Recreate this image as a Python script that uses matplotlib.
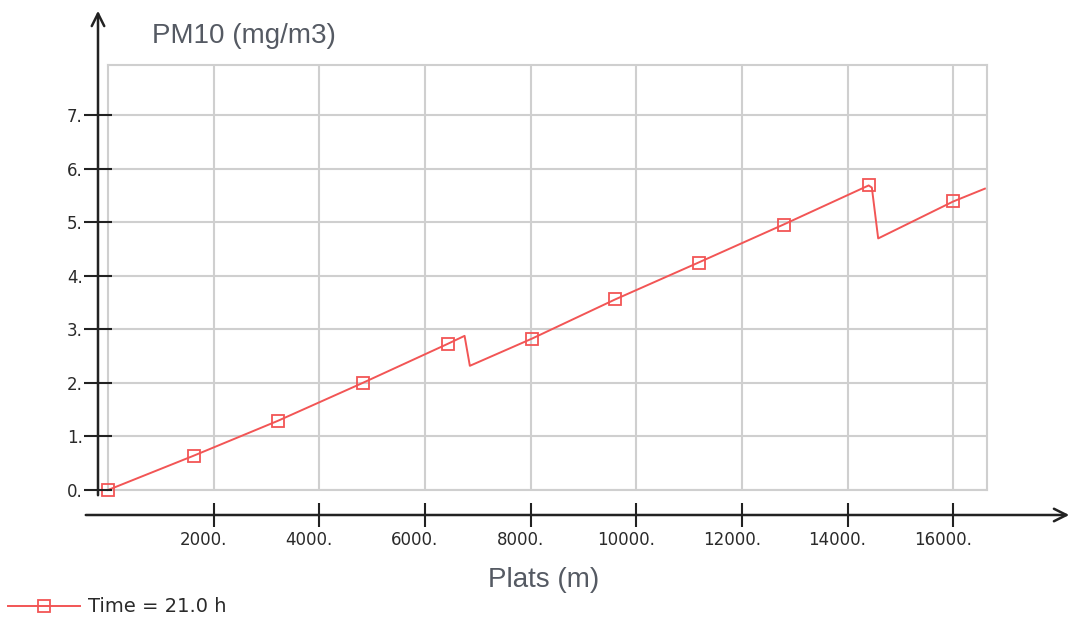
import matplotlib
matplotlib.use("Agg")
import matplotlib.pyplot as plt
import matplotlib.transforms as mtransforms

# distance along the route (m) and PM10 (mg/m3)
plats = [0, 1620, 3210, 4820, 6430, 6750, 6850, 8030, 9600, 11180, 12790,
         14400, 14460, 14580, 16000, 16600]
pm10 = [0.0, 0.64, 1.29, 2.00, 2.73, 2.88, 2.32, 2.83, 3.56, 4.25, 4.96,
        5.69, 5.65, 4.70, 5.39, 5.63]
marker_idx = [0, 1, 2, 3, 4, 7, 8, 9, 10, 11, 14]

xticks = [2000, 4000, 6000, 8000, 10000, 12000, 14000, 16000]
xticklabels = ["2000.", "4000.", "6000.", "8000.", "10000.", "12000.", "14000.", "16000."]
yticks = [0, 1, 2, 3, 4, 5, 6, 7]
yticklabels = ["0.", "1.", "2.", "3.", "4.", "5.", "6.", "7."]
series_name = "Time = 21.0 h"

W, H = 1074, 618
fig = plt.figure(figsize=(W / 100, H / 100), dpi=100)

left, right, top, bottom = 108, 987, 65, 490
xmin, xmax = 0, 16640
ymin, ymax = 0, 7.94

ax = fig.add_axes([left / W, 1 - bottom / H, (right - left) / W, (bottom - top) / H])
ax.set_xlim(xmin, xmax)
ax.set_ylim(ymin, ymax)
ax.set_xticks(xticks)
ax.set_yticks(yticks)
ax.tick_params(length=0, labelbottom=False, labelleft=False)
ax.grid(True, color="#cfcfcf", lw=1.5)
ax.set_axisbelow(True)
for s in ax.spines.values():
    s.set_color("#cfcfcf")
    s.set_linewidth(1.5)

red = "#f25555"
line, = ax.plot(plats, pm10, color=red, lw=1.4, marker="s", markersize=8.5,
                markerfacecolor="none", markeredgecolor=red, markeredgewidth=1.3,
                markevery=marker_idx, clip_on=False, zorder=3)

tick_color = "#2a2a2a"
tick_fs = 12

# separate x axis with arrow
xaxis_y = 515
ax_x = fig.add_axes([left / W, 1 - xaxis_y / H, (right - left) / W, 1e-5])
ax_x.set_xlim(xmin, xmax)
ax_x.set_yticks([])
for s in ax_x.spines.values():
    s.set_visible(False)
ax_x.set_xticks(xticks)
ax_x.set_xticklabels(xticklabels, fontsize=tick_fs, color=tick_color)
ax_x.tick_params(axis="x", direction="inout", length=17, width=1.5, color="#222222", pad=3)
off = mtransforms.ScaledTranslation(-10 / 100, 0, fig.dpi_scale_trans)
for lbl in ax_x.get_xticklabels():
    lbl.set_transform(lbl.get_transform() + off)
ax_x.patch.set_visible(False)

# separate y axis with arrow
yaxis_x = 98
ax_y = fig.add_axes([yaxis_x / W, 1 - bottom / H, 1e-5, (bottom - top) / H])
ax_y.set_ylim(ymin, ymax)
ax_y.set_xticks([])
for s in ax_y.spines.values():
    s.set_visible(False)
ax_y.set_yticks(yticks)
ax_y.set_yticklabels(yticklabels, fontsize=tick_fs, color=tick_color)
ax_y.tick_params(axis="y", direction="inout", length=20, width=1.5, color="#222222", pad=1)
ax_y.patch.set_visible(False)

arrow = dict(arrowstyle="->,head_length=0.9,head_width=0.45", color="#222222", lw=1.8)
ax.annotate("", xy=(1072, H - xaxis_y), xytext=(83, H - xaxis_y),
            xycoords="figure pixels", textcoords="figure pixels",
            arrowprops=arrow, annotation_clip=False)
ax.annotate("", xy=(yaxis_x, H - 8), xytext=(yaxis_x, H - 498),
            xycoords="figure pixels", textcoords="figure pixels",
            arrowprops=arrow, annotation_clip=False)

fig.text(152 / W, 1 - 36 / H, "PM10 (mg/m3)", fontsize=20, color="#555a63",
         family="Liberation Sans", ha="left", va="center")
fig.text(544 / W, 1 - 580 / H, "Plats (m)", fontsize=20, color="#555a63",
         family="Liberation Sans", ha="center", va="center")

fig.legend([line], [series_name], loc="center left",
           bbox_to_anchor=(0 / W, 1 - 607 / H), frameon=False,
           fontsize=14, handlelength=3.7, handletextpad=0.4,
           labelcolor=tick_color, borderaxespad=0, borderpad=0.4)

fig.savefig("out.png", dpi=100)
